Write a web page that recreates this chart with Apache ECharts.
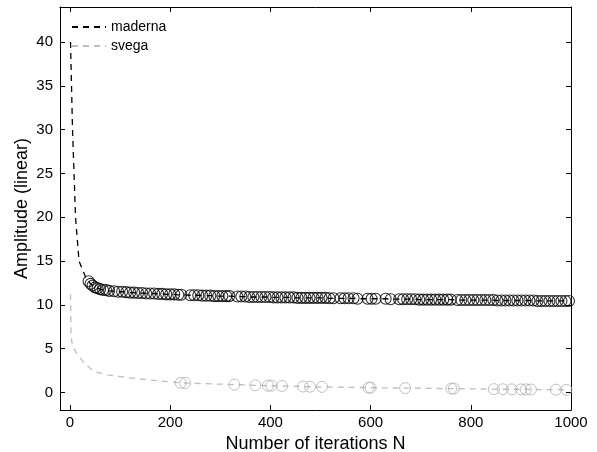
<!DOCTYPE html>
<html>
<head>
<meta charset="utf-8">
<script src="https://cdn.jsdelivr.net/npm/echarts@6/dist/echarts.min.js"></script>
<style>html,body{margin:0;padding:0;background:#fff}#c{width:597px;height:452px}</style>
</head>
<body>
<div id="c"></div>
<script>
// ---- data ----
var xTicks = [0, 200, 400, 600, 800, 1000];
var yTicks = [0, 5, 10, 15, 20, 25, 30, 35, 40];

// maderna: dashed curve before first marker
var maderHeadX = [1, 3, 5, 8, 11, 18, 25, 31];
var maderHeadY = [40, 35, 30, 25, 20, 15, 14, 13.2];
// maderna: marker iterations
var maderMarkX = [37,41,45,50,55,60,66,72,78,
  88,96,104,112,120,128,136,144,152,160,168,176,184,192,200,208,216,222,
  240,248,256,264,272,280,288,296,304,312,318,
  334,342,350,358,366,374,382,390,398,406,414,422,430,438,446,454,462,470,478,486,494,502,510,518,526,
  540,548,556,566,574,
  594,602,610,
  630,640,
  657,665,673,681,689,697,705,713,721,729,737,745,753,760,
  773,781,789,797,805,813,821,829,837,845,853,861,869,877,885,893,901,909,917,925,933,941,949,957,965,973,981,989,996];
var maderMarkY = [12.7,12.4,12.2,12.0,11.9,11.8,11.7,11.7,11.6,
  11.55,11.5,11.5,11.45,11.4,11.4,11.35,11.35,11.3,11.3,11.3,11.25,11.25,11.2,11.2,11.2,11.15,11.15,
  11.1,11.1,11.1,11.05,11.05,11.05,11.0,11.0,11.0,11.0,11.0,
  10.95,10.95,10.95,10.9,10.9,10.9,10.9,10.9,10.9,10.85,10.85,10.85,10.85,10.85,10.85,10.8,10.8,10.8,10.8,10.8,10.8,10.8,10.8,10.75,10.75,
  10.75,10.75,10.75,10.75,10.7,
  10.7,10.7,10.7,
  10.7,10.65,
  10.65,10.65,10.65,10.65,10.65,10.6,10.6,10.6,10.6,10.6,10.6,10.6,10.6,10.6,
  10.55,10.55,10.55,10.55,10.55,10.55,10.55,10.55,10.55,10.55,10.5,10.5,10.5,10.5,10.5,10.5,10.5,10.5,10.5,10.5,10.45,10.45,10.45,10.45,10.45,10.45,10.45,10.45,10.45];

// svega
var svegaHeadX = [1, 2, 5, 15, 31, 48, 75, 114, 181];
var svegaHeadY = [11.2, 6.4, 5.3, 4.3, 3.2, 2.4, 2.0, 1.7, 1.3];
var svegaMarkX = [221,230,328,370,395,402,423,465,479,503,596,600,669,761,766,846,864,882,900,910,920,970,991];
var svegaMarkY = [1.1,1.08,0.9,0.82,0.78,0.77,0.74,0.68,0.66,0.64,0.55,0.55,0.5,0.44,0.44,0.38,0.37,0.36,0.35,0.35,0.34,0.32,0.31];

function pairs(xs, ys) { return xs.map(function (x, i) { return [x, ys[i]]; }); }

var maderLine = pairs(maderHeadX.concat(maderMarkX), maderHeadY.concat(maderMarkY));
var svegaLine = pairs(svegaHeadX.concat(svegaMarkX), svegaHeadY.concat(svegaMarkY));

var FONT = 'Liberation Sans';
var black = '#000';
var gray = '#bdbdbd';

function tick() {
  return { show: true, inside: true, length: 5, lineStyle: { color: black } };
}
function axisBase(extra) {
  var o = {
    axisLine: { show: true, onZero: false, lineStyle: { color: black, width: 1 } },
    splitLine: { show: false }
  };
  for (var k in extra) o[k] = extra[k];
  return o;
}

var chart = echarts.init(document.getElementById('c'), null, { renderer: 'canvas' });
chart.setOption({
  animation: false,
  backgroundColor: '#fff',
  textStyle: { fontFamily: FONT },
  grid: { left: 60, right: 26, top: 7, bottom: 42, containLabel: false, outerBoundsMode: 'none' },
  legend: {
    data: ['maderna', 'svega'],
    orient: 'vertical',
    left: 66, top: 15,
    itemWidth: 34, itemHeight: 12, itemGap: 5,
    itemStyle: { opacity: 0 },
    textStyle: { fontFamily: FONT, fontSize: 14, color: '#000' }
  },
  xAxis: [
    axisBase({
      type: 'value', min: -20, max: 1000, position: 'bottom',
      name: 'Number of iterations N', nameLocation: 'middle', nameGap: 22,
      nameTextStyle: { fontFamily: FONT, fontSize: 18, color: '#000' },
      axisTick: Object.assign(tick(), { customValues: xTicks }),
      axisLabel: { customValues: xTicks, fontFamily: FONT, fontSize: 15, color: '#000', margin: 5,
        formatter: function (v) { return String(v); } }
    }),
    axisBase({
      type: 'value', min: -20, max: 1000, position: 'top',
      axisTick: Object.assign(tick(), { customValues: xTicks }),
      axisLabel: { show: false }
    })
  ],
  yAxis: [
    axisBase({
      type: 'value', min: -2, max: 44, position: 'left',
      name: 'Amplitude (linear)', nameLocation: 'middle', nameGap: 29, nameRotate: 90,
      nameMoveOverlap: false,
      nameTextStyle: { fontFamily: FONT, fontSize: 18, color: '#000' },
      axisTick: Object.assign(tick(), { customValues: yTicks }),
      axisLabel: { customValues: yTicks, fontFamily: FONT, fontSize: 15, color: '#000', margin: 7,
        formatter: function (v) { return String(v); } }
    }),
    axisBase({
      type: 'value', min: -2, max: 44, position: 'right',
      axisTick: Object.assign(tick(), { customValues: yTicks }),
      axisLabel: { show: false }
    })
  ],
  series: [
    {
      name: 'maderna', type: 'line', symbol: 'none', data: maderLine,
      lineStyle: { color: black, width: 1.3, type: [6, 5] }, itemStyle: { color: black }, z: 2
    },
    {
      name: 'svega', type: 'line', symbol: 'none', data: svegaLine,
      lineStyle: { color: gray, width: 1.3, type: [6, 5] }, itemStyle: { color: gray }, z: 2
    },
    {
      name: 'maderna markers', type: 'scatter', data: pairs(maderMarkX, maderMarkY),
      symbol: 'circle', symbolSize: 11,
      itemStyle: { color: 'rgba(0,0,0,0)', borderColor: black, borderWidth: 1.1 }, z: 3
    },
    {
      name: 'svega markers', type: 'scatter', data: pairs(svegaMarkX, svegaMarkY),
      symbol: 'circle', symbolSize: 11,
      itemStyle: { color: 'rgba(0,0,0,0)', borderColor: '#b0b0b0', borderWidth: 1 }, z: 3
    }
  ]
});
</script>
</body>
</html>
